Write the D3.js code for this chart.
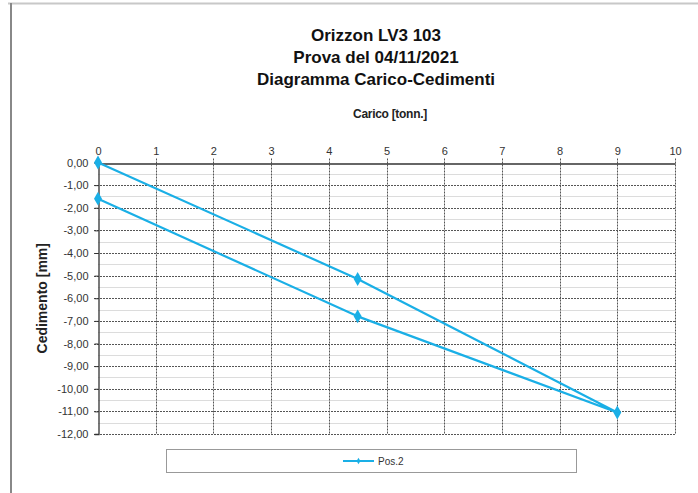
<!DOCTYPE html>
<html><head><meta charset="utf-8">
<script src="https://cdn.jsdelivr.net/npm/d3@7"></script>
<style>body{margin:0;background:#fff;}svg{display:block;font-family:"Liberation Sans",Arial,sans-serif;}</style>
</head><body>
<script>
const titleLines = ["Orizzon LV3 103", "Prova del 04/11/2021", "Diagramma  Carico-Cedimenti"];
const xAxisTitle = "Carico [tonn.]";
const yAxisTitle = "Cedimento [mm]";
const seriesName = "Pos.2";
const carico = [0, 4.5, 9, 4.5, 0];
const cedimento = [0, -5.15, -11.05, -6.8, -1.6];
const xTicks = [0,1,2,3,4,5,6,7,8,9,10];
const yTicks = [0,-1,-2,-3,-4,-5,-6,-7,-8,-9,-10,-11,-12];
const yMinor = [-0.5,-1.5,-2.5,-3.5,-4.5,-5.5,-6.5,-7.5,-8.5,-9.5,-10.5,-11.5];

const W = 698, H = 493;
const svg = d3.select("body").append("svg").attr("width", W).attr("height", H);
svg.append("rect").attr("width", W).attr("height", H).attr("fill", "#fff");
// frame
svg.append("line").attr("x1", 8).attr("x2", W).attr("y1", 3.5).attr("y2", 3.5).attr("stroke", "#c8c8c8").attr("stroke-width", 2);
svg.append("line").attr("x1", 11).attr("x2", 11).attr("y1", 3).attr("y2", H).attr("stroke", "#888").attr("stroke-width", 2);

const x = d3.scaleLinear().domain([0, 10]).range([98, 675]);
const y = d3.scaleLinear().domain([0, -12]).range([162.5, 434]);
const blue = "#1AAFE6";

// minor gridlines
svg.append("g").selectAll("line").data(yMinor).join("line")
  .attr("x1", x(0)).attr("x2", x(10)).attr("y1", d => Math.round(y(d)) + 0.5).attr("y2", d => Math.round(y(d)) + 0.5)
  .attr("stroke", "#dcdcdc").attr("stroke-width", 1);
// major gridlines
svg.append("g").selectAll("line").data(yTicks.filter(d => d !== 0)).join("line")
  .attr("x1", x(0) - 4).attr("x2", x(10)).attr("y1", d => Math.round(y(d)) + 0.5).attr("y2", d => Math.round(y(d)) + 0.5)
  .attr("stroke", "#555").attr("stroke-width", 1).attr("stroke-dasharray", "2,1");
svg.append("g").selectAll("line").data(xTicks.filter(d => d !== 0)).join("line")
  .attr("x1", d => Math.round(x(d)) + 0.5).attr("x2", d => Math.round(x(d)) + 0.5).attr("y1", y(0) - 4).attr("y2", y(-12))
  .attr("stroke", "#555").attr("stroke-width", 1).attr("stroke-dasharray", "2,1");

// axes
const xAxis = d3.axisTop(x).tickValues(xTicks).tickSize(0).tickPadding(9).tickFormat(d3.format("d"));
const gx = svg.append("g").attr("transform", `translate(0,${Math.round(y(0)) + 0.5})`).call(xAxis);
gx.select(".domain").attr("stroke", "#333").attr("stroke-width", 1.3);
gx.selectAll("text").attr("font-size", 11).attr("fill", "#333").attr("font-family", "Liberation Sans, Arial, sans-serif");

const fmt = v => d3.format(".2f")(v).replace(".", ",").replace("−", "-");
const yAxis = d3.axisLeft(y).tickValues(yTicks).tickSize(4).tickPadding(6).tickFormat(fmt);
const gy = svg.append("g").attr("transform", `translate(${Math.round(x(0)) + 0.5},0)`).call(yAxis);
gy.select(".domain").attr("stroke", "#333").attr("stroke-width", 1.3);
gy.selectAll(".tick line").attr("stroke", "#333");
gy.selectAll("text").attr("font-size", 11).attr("fill", "#333").attr("font-family", "Liberation Sans, Arial, sans-serif");

// titles
svg.append("g").selectAll("text").data(titleLines).join("text")
  .attr("x", 376).attr("y", (d, i) => 41 + i * 22).attr("text-anchor", "middle")
  .attr("font-size", 17).attr("font-weight", "bold").attr("fill", "#111").text(d => d);
svg.append("text").attr("x", 390).attr("y", 118).attr("text-anchor", "middle")
  .attr("font-size", 12).attr("font-weight", "bold").attr("fill", "#222").attr("letter-spacing", -0.3).text(xAxisTitle);
svg.append("text").attr("transform", `translate(47,${(y(0) + y(-12)) / 2}) rotate(-90)`).attr("text-anchor", "middle")
  .attr("font-size", 14).attr("font-weight", "bold").attr("fill", "#222").text(yAxisTitle);

// series
const pts = carico.map((c, i) => [c, cedimento[i]]);
svg.append("path").datum(pts)
  .attr("d", d3.line().x(d => x(d[0])).y(d => y(d[1])))
  .attr("fill", "none").attr("stroke", blue).attr("stroke-width", 2.2).attr("stroke-linejoin", "round");
svg.append("g").selectAll("path").data(pts).join("path")
  .attr("transform", d => `translate(${x(d[0])},${y(d[1])})`)
  .attr("d", d3.symbol().type(d3.symbolDiamond).size(55))
  .attr("fill", blue);

// legend
svg.append("rect").attr("x", 166.5).attr("y", 449.5).attr("width", 410).attr("height", 23)
  .attr("fill", "#fff").attr("stroke", "#999").attr("stroke-width", 1);
svg.append("line").attr("x1", 343).attr("x2", 374).attr("y1", 461).attr("y2", 461).attr("stroke", blue).attr("stroke-width", 2);
svg.append("path").attr("transform", "translate(358.5,461)").attr("d", d3.symbol().type(d3.symbolDiamond).size(12)).attr("fill", blue);
svg.append("text").attr("x", 378).attr("y", 465).attr("font-size", 10).attr("fill", "#333").text(seriesName);
</script>
</body></html>
